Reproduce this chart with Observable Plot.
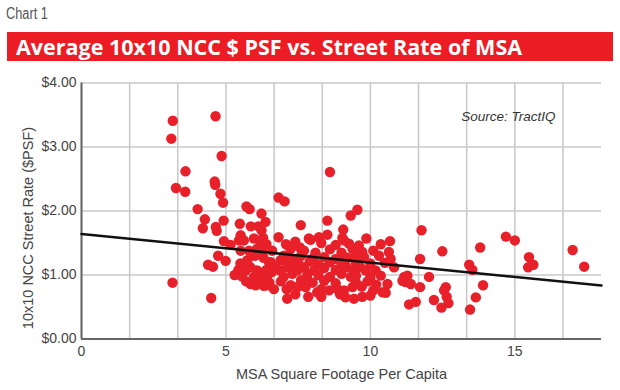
<!DOCTYPE html>
<html><head><meta charset="utf-8">
<script src="https://cdn.jsdelivr.net/npm/d3@7"></script>
<script src="https://cdn.jsdelivr.net/npm/@observablehq/plot@0.6"></script>
<style>
body{margin:0;background:#fff;width:620px;height:390px;overflow:hidden;position:relative;font-family:"Liberation Sans",Arial,sans-serif;}
#label{position:absolute;left:6px;top:5px;font-family:"Liberation Sans",Arial,sans-serif;font-size:16px;color:#555;transform:scaleX(0.8);transform-origin:left top;}
#banner{position:absolute;left:7px;top:32px;width:606px;height:29px;background:#ec1c24;}
#title{position:absolute;left:16px;top:32px;line-height:29px;color:#fff;font-family:"Open Sans",sans-serif;font-weight:700;font-size:21.5px;white-space:nowrap;}
#chart{position:absolute;left:0;top:70px;}
</style></head>
<body>
<div id="label"></div>
<div id="banner"></div>
<div id="title"></div>
<div id="chart"></div>
<script>
const chartLabel = "Chart 1";
const chartTitle = "Average 10x10 NCC $ PSF vs. Street Rate of MSA";
const sourceNote = "Source: TractIQ";
const xLabel = "MSA Square Footage Per Capita";
const yLabel = "10x10 NCC Street Rate ($PSF)";
const xTicks = [0, 5, 10, 15];
const yTicks = [0, 1, 2, 3, 4];
const trendX = [0, 18];
const trendY = [1.64, 0.835];

// MSA square footage per capita
const sqft = [
3.16,3.11,4.64,4.85,3.60,3.27,3.59,4.61,4.63,4.81,
4.90,4.02,4.27,4.92,4.20,4.65,4.68,5.71,5.82,5.48,
6.82,7.03,6.23,6.37,6.12,5.86,6.23,6.29,5.97,5.51,
5.45,6.82,7.59,7.08,7.22,7.56,7.87,4.93,5.16,8.60,
8.51,9.32,9.55,9.06,3.15,4.49,4.73,4.99,4.38,4.55,
5.51,5.80,5.74,5.43,9.86,10.36,10.68,7.93,8.22,8.51,
9.03,11.77,12.49,11.72,13.80,14.69,15.00,15.49,15.64,15.46,
17.00,17.40,13.42,13.53,13.90,13.65,13.45,12.03,12.61,12.55,
12.64,12.70,12.46,12.20,11.72,11.57,11.34,11.17,11.28,11.22,
11.40,11.11,9.09,9.26,9.38,10.64,10.70,10.82,9.72,9.78,
8.97,9.20,9.43,9.66,9.84,10.18,10.36,9.32,9.49,9.38,
9.09,9.14,9.43,9.72,10.59,10.42,10.53,6.20,6.40,6.08,
6.26,5.68,5.55,5.85,6.08,6.20,5.97,5.85,5.70,6.20,
6.43,6.43,6.66,6.31,6.55,6.72,6.89,7.12,7.30,7.47,
7.70,7.82,8.05,7.12,7.76,8.16,8.57,8.86,8.95,8.30,
5.62,7.24,7.01,6.89,6.49,6.60,6.26,5.91,7.24,6.03,
7.40,8.30,8.80,9.60,6.60,7.70,8.10,8.60,9.00,9.50,
10.10,6.00,6.30,7.30,7.60,8.00,8.40,8.80,9.20,10.30,
5.50,7.10,7.50,7.90,8.20,8.60,9.00,9.50,10.00,10.50,
6.40,7.35,8.40,8.80,5.30,7.00,7.80,8.20,8.60,9.00,
9.50,10.00,6.50,6.90,7.60,8.00,8.40,8.80,9.90,10.20,
7.10,7.50,8.30,9.70,10.10,7.40,7.85,10.00
];
// 10x10 NCC street rate ($ per sq ft)
const rate = [
3.41,3.13,3.48,2.86,2.62,2.36,2.30,2.46,2.41,2.27,
2.13,2.03,1.87,1.85,1.73,1.75,1.69,2.07,2.03,1.80,
2.21,2.15,1.96,1.83,1.76,1.76,1.70,1.58,1.57,1.62,
1.54,1.59,1.78,1.48,1.43,1.43,1.57,1.53,1.47,2.61,
1.85,1.93,2.02,1.71,0.88,0.64,1.30,1.22,1.16,1.13,
1.38,1.38,1.23,1.08,1.57,1.48,1.53,1.55,1.59,1.63,
1.58,1.70,1.37,1.25,1.43,1.60,1.54,1.28,1.16,1.12,
1.39,1.13,1.16,1.08,0.84,0.65,0.46,0.97,0.81,0.76,
0.66,0.56,0.49,0.61,0.81,0.58,0.54,0.97,0.99,0.89,
0.86,0.91,1.54,1.49,1.41,1.36,1.25,1.12,1.36,1.28,
1.23,1.12,1.07,1.12,1.07,1.07,0.99,0.97,0.89,0.81,
0.76,0.65,0.63,0.66,0.86,0.73,0.72,1.51,1.48,1.41,
1.38,1.07,0.98,1.12,1.07,1.02,0.97,0.86,0.90,0.91,
0.97,0.84,0.78,0.83,1.20,1.12,1.07,1.12,1.02,1.07,
1.12,1.02,1.07,0.63,0.81,0.73,0.76,0.78,0.70,0.66,
1.54,1.41,1.30,1.23,1.20,1.05,0.99,0.91,0.84,0.84,
1.52,1.50,1.47,1.46,1.38,1.38,1.35,1.40,1.35,1.30,
1.38,1.30,1.27,1.25,1.30,1.26,1.28,1.25,1.27,1.30,
1.18,1.20,1.18,1.21,1.17,1.20,1.16,1.20,1.18,1.19,
1.08,1.15,1.11,1.08,1.00,0.97,0.96,1.00,0.97,1.02,
0.99,0.96,0.88,0.90,0.92,0.88,0.91,0.87,0.90,0.85,
0.78,0.82,0.78,0.82,0.76,0.70,0.66,0.68
];

document.getElementById("label").textContent = chartLabel;
document.getElementById("title").textContent = chartTitle;

const points = sqft.map((x, i) => ({x, y: rate[i]}));
const trend = trendX.map((x, i) => ({x, y: trendY[i]}));
const xGrid = d3.range(0, 18, 5 / 3);

const plot = Plot.plot({
  width: 620,
  height: 320,
  marginLeft: 81,
  marginRight: 19,
  marginTop: 12.5,
  marginBottom: 51.5,
  style: {fontFamily: "'Liberation Sans', Arial, sans-serif", fontSize: "14px", color: "#444", background: "#fff"},
  x: {domain: [0, 18]},
  y: {domain: [0, 4]},
  marks: [
    Plot.gridX(xGrid, {stroke: "#c8c8c8", strokeOpacity: 1, strokeWidth: 1.5}),
    Plot.gridY(yTicks, {stroke: "#c8c8c8", strokeOpacity: 1, strokeWidth: 1.5}),
    Plot.ruleX([0], {stroke: "#666", strokeWidth: 2}),
    Plot.ruleY([0], {stroke: "#666", strokeWidth: 2}),
    Plot.axisX(xTicks, {tickSize: 0, tickPadding: 7, fontSize: 14, label: null, fill: "#444"}),
    Plot.text([xLabel], {frameAnchor: "bottom", dy: 35, lineAnchor: "middle", textAnchor: "middle", fontSize: 14.5, fill: "#444"}),
    Plot.axisY(yTicks, {tickSize: 0, tickPadding: 5, fontSize: 14, tickFormat: d => "$" + d.toFixed(2), label: null, fill: "#444"}),
    Plot.text([yLabel], {frameAnchor: "left", rotate: -90, dx: -53, dy: 17, textAnchor: "middle", lineAnchor: "middle", fill: "#444", fontSize: 14.5}),
    Plot.dot(points, {x: "x", y: "y", r: 5.2, fill: "#e8202a", stroke: "none"}),
    Plot.line(trend, {x: "x", y: "y", stroke: "#111", strokeWidth: 2.5}),
    Plot.text([sourceNote], {frameAnchor: "top-right", dx: -46, dy: 34, lineAnchor: "middle", textAnchor: "end", fontStyle: "italic", fontSize: 13.5, fill: "#333"})
  ]
});
document.getElementById("chart").appendChild(plot);
</script>
</body></html>
